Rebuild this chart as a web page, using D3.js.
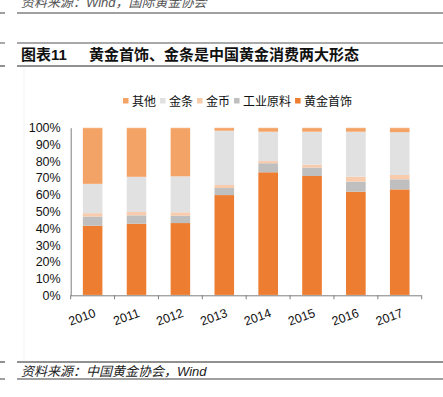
<!DOCTYPE html>
<html>
<head>
<meta charset="utf-8">
<script src="https://cdn.jsdelivr.net/npm/d3@7"></script>
<style>
  body { margin: 0; background: #fff; }
  svg { display: block; font-family: "Liberation Sans", Arial, "Noto Sans CJK SC", sans-serif; }
</style>
</head>
<body>
<svg id="chart" width="443" height="397"></svg>
<script>
// chart values (share of consumption, %)
const years = ["2010", "2011", "2012", "2013", "2014", "2015", "2016", "2017"]
const jewelry = [41.5, 42.7, 43.1, 59.8, 73.4, 71.2, 61.8, 63.2]
const industrial = [5.5, 5.0, 4.4, 4.2, 5.4, 5.0, 6.0, 6.0]
const coins = [2.0, 2.0, 2.0, 1.8, 1.3, 1.7, 3.0, 2.6]
const barsGold = [17.5, 21.0, 21.5, 32.4, 17.5, 19.7, 26.8, 25.5]
const others = [33.5, 29.3, 29.0, 1.8, 2.4, 2.4, 2.4, 2.7]
const yTicks = [0, 10, 20, 30, 40, 50, 60, 70, 80, 90, 100]

// stacking order bottom -> top
const seriesKeys = ["黄金首饰", "工业原料", "金币", "金条", "其他"]
const seriesData = { "黄金首饰": jewelry, "工业原料": industrial, "金币": coins, "金条": barsGold, "其他": others }
const colors = { "黄金首饰": "#ED7D31", "工业原料": "#BFBFBF", "金币": "#F8CBAD", "金条": "#E1E1E1", "其他": "#F4A366" }
const legendOrder = ["其他", "金条", "金币", "工业原料", "黄金首饰"]

const svg = d3.select("#chart")

// page decoration: header / footer rules and captions
const rule = (y, color, w) => {
  svg.append("line").attr("x1", 0).attr("x2", 5).attr("y1", y).attr("y2", y).attr("stroke", color).attr("stroke-width", w)
  svg.append("line").attr("x1", 17).attr("x2", 443).attr("y1", y).attr("y2", y).attr("stroke", color).attr("stroke-width", w)
}
svg.append("text").attr("x", 21).attr("y", 7).attr("font-size", 13).attr("font-style", "italic")
  .attr("fill", "#555").text("资料来源：Wind，国际黄金协会")
rule(13, "#7f7f7f", 1.5)
rule(43, "#8c8c8c", 1.5)
svg.append("text").attr("x", 21).attr("y", 60).attr("font-size", 15).attr("font-weight", "bold")
  .attr("fill", "#111").text("图表11")
svg.append("text").attr("x", 89).attr("y", 60).attr("font-size", 15).attr("font-weight", "bold")
  .attr("fill", "#111").text("黄金首饰、金条是中国黄金消费两大形态")
rule(66, "#222", 1)
rule(362, "#222", 1)
svg.append("text").attr("x", 21).attr("y", 376).attr("font-size", 13).attr("font-style", "italic")
  .attr("fill", "#222").text("资料来源：中国黄金协会，Wind")
rule(379, "#7f7f7f", 1.5)

// faint chart frame edge
svg.append("line").attr("x1", 24).attr("x2", 24).attr("y1", 67).attr("y2", 361).attr("stroke", "#f3f3f3")

// plot
const margin = { left: 70.7, right: 421.7, top: 127.7, bottom: 295.3 }
const x = d3.scaleBand().domain(years).range([margin.left, margin.right]).paddingInner(0.55).paddingOuter(0.275)
const y = d3.scaleLinear().domain([0, 100]).range([margin.bottom, margin.top])

const table = years.map((yr, i) => {
  const row = { year: yr }
  seriesKeys.forEach(k => { row[k] = seriesData[k][i] })
  return row
})
const stacked = d3.stack().keys(seriesKeys)(table)

svg.append("g").selectAll("g")
  .data(stacked)
  .join("g")
  .attr("fill", d => colors[d.key])
  .selectAll("rect")
  .data(d => d)
  .join("rect")
  .attr("x", d => x(d.data.year))
  .attr("width", x.bandwidth())
  .attr("y", d => y(Math.min(100, d[1])))
  .attr("height", d => y(d[0]) - y(Math.min(100, d[1])))

// soft halo around each bar
svg.append("g").selectAll("rect")
  .data(years)
  .join("rect")
  .attr("x", d => x(d) - 0.5)
  .attr("width", x.bandwidth() + 1)
  .attr("y", y(100))
  .attr("height", y(0) - y(100))
  .attr("fill", "none")
  .attr("stroke", "#fff")
  .attr("stroke-opacity", 0.5)
  .attr("stroke-width", 1)

// y axis
const yAxis = svg.append("g").attr("transform", `translate(${margin.left},0)`)
  .call(d3.axisLeft(y).tickValues(yTicks).tickFormat(d => d + "%").tickSize(0).tickPadding(10))
yAxis.select(".domain").attr("stroke", "#7f7f7f")
yAxis.selectAll("text").attr("font-size", 12.5).attr("fill", "#111")
  .attr("font-family", "\"Liberation Sans\", Arial, sans-serif")

// x axis: line with ticks at category boundaries
const xg = svg.append("g")
xg.append("line").attr("x1", margin.left).attr("x2", margin.right)
  .attr("y1", y(0) + 0.5).attr("y2", y(0) + 0.5).attr("stroke", "#7f7f7f")
const step = x.step()
xg.selectAll("line.tick")
  .data(d3.range(years.length + 1))
  .join("line")
  .attr("class", "tick")
  .attr("x1", i => margin.left + i * step).attr("x2", i => margin.left + i * step)
  .attr("y1", y(0)).attr("y2", y(0) + 4)
  .attr("stroke", "#7f7f7f")
xg.selectAll("text")
  .data(years)
  .join("text")
  .attr("transform", d => `translate(${x(d) + x.bandwidth() / 2 + 4},${y(0) + 21}) rotate(-20)`)
  .attr("text-anchor", "end")
  .attr("font-size", 12.5)
  .attr("fill", "#111")
  .text(d => d)

// legend
const legend = svg.append("g")
let lx = 123
legendOrder.forEach(k => {
  legend.append("rect").attr("x", lx).attr("y", 98).attr("width", 5.5).attr("height", 5.5).attr("fill", colors[k])
  const t = legend.append("text").attr("x", lx + 9).attr("y", 106).attr("font-size", 12).attr("fill", "#111").text(k)
  lx += 9 + t.node().getComputedTextLength() + 4
})
</script>
</body>
</html>
